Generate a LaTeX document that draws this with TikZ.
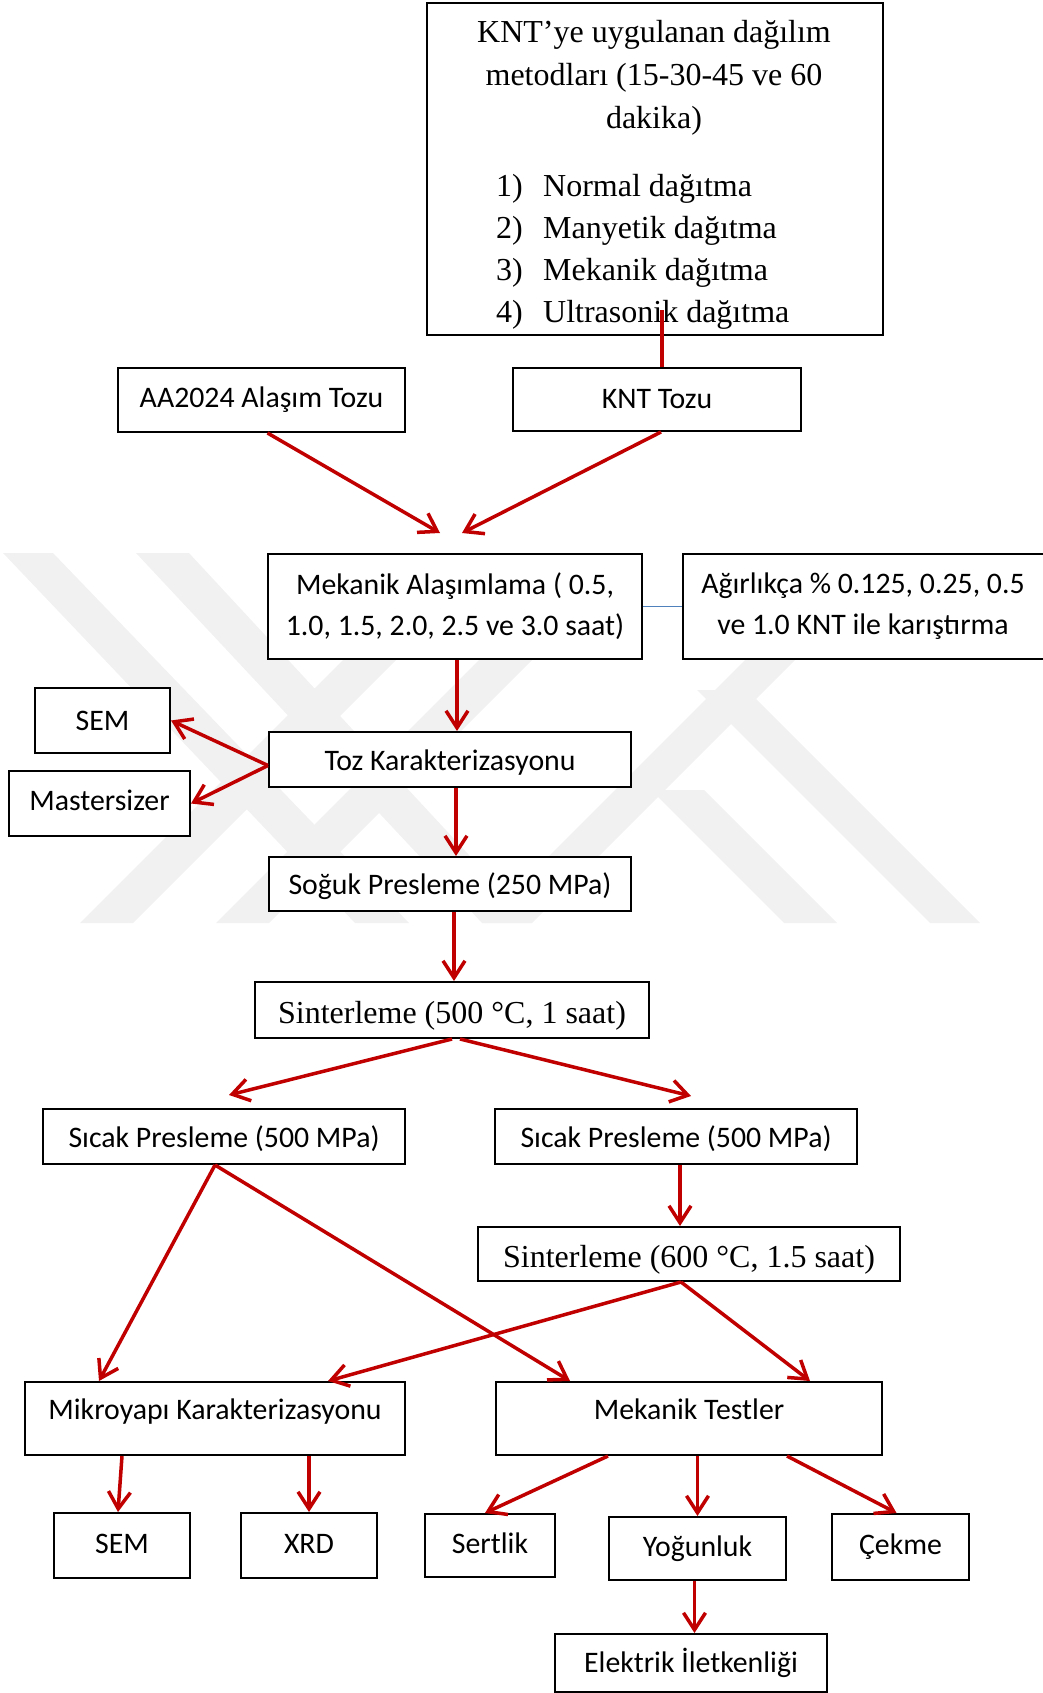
\documentclass[tikz,border=0pt]{standalone}
\usepackage{fontspec}
\setmainfont{Liberation Serif}
\newfontfamily\calibri{Carlito}
\usetikzlibrary{arrows.meta}
\definecolor{arrred}{HTML}{C00000}
\definecolor{linkblue}{HTML}{4F81BD}
\definecolor{wmgray}{HTML}{F1F1F1}
\tikzset{
  box/.style={draw, line width=2pt, fill=white, inner sep=0pt, align=center,
    font=\calibri\fontsize{29.8}{41}\selectfont},
  sbox/.style={box, font=\fontsize{32}{43}\selectfont},
  arr/.style={draw=arrred, line width=3.5pt, -{Straight Barb[length=17pt,width=22pt]}},
}
\begin{document}
\begin{tikzpicture}[x=1pt, y=-1pt]
\useasboundingbox (0,0) rectangle (1042,1693);
% watermark
\fill[wmgray] (3,553) -- (53,553) -- (409,923) -- (355,923) -- cycle;
\fill[wmgray] (136,553) -- (189,553) -- (532,923) -- (482,923) -- cycle;
\fill[wmgray] (80,923) -- (133,923) -- (503,553) -- (450,553) -- cycle;
\fill[wmgray] (216,923) -- (269,923) -- (639,553) -- (586,553) -- cycle;
\fill[wmgray] (482,923) -- (532,923) -- (902,553) -- (852,553) -- cycle;
\fill[wmgray] (697,690) -- (747,690) -- (980,923) -- (930,923) -- cycle;
\fill[wmgray] (651,790) -- (704,790) -- (837,923) -- (784,923) -- cycle;

\node[box, minimum width=456, minimum height=332, anchor=north west] (meth) at (426,2) {};
\node[anchor=north, align=center, font=\fontsize{32}{43}\selectfont] (methhead) at (654,17)
  {KNT’ye uygulanan dağılım\\metodları (15-30-45 ve 60\\dakika)};
\node[anchor=north west, align=left, inner sep=0pt, font=\fontsize{32}{42}\selectfont] (methlist) at (496,174)
  {\makebox[47pt][l]{1)}Normal dağıtma\\
   \makebox[47pt][l]{2)}Manyetik dağıtma\\
   \makebox[47pt][l]{3)}Mekanik dağıtma\\
   \makebox[47pt][l]{4)}Ultrasonik dağıtma};

\node[box, minimum width=287, minimum height=64] (aa) at (261.5,400) {AA2024 Alaşım Tozu};
\node[box, minimum width=288, minimum height=63] (knt) at (657,399.5) {KNT Tozu};
\node[box, minimum width=374, minimum height=105] (mek) at (455,606.5) {Mekanik Alaşımlama ( 0.5,\\1.0, 1.5, 2.0, 2.5 ve 3.0 saat)};
\node[box, minimum width=364, minimum height=105] (agir) at (865,606.5) {\hspace*{-4pt}Ağırlıkça \% 0.125, 0.25, 0.5\\ve 1.0 KNT ile karıştırma\hspace*{4pt}};
\node[box, minimum width=362, minimum height=55, text height=27pt, text depth=6pt] (toz) at (450,759.5) {Toz Karakterizasyonu};
\node[box, minimum width=135, minimum height=65] (sem1) at (102.5,720.5) {SEM};
\node[box, minimum width=181, minimum height=65, text depth=6pt] (master) at (99.5,803.5) {Mastersizer};
\node[box, minimum width=362, minimum height=54, text height=27pt, text depth=6pt] (soguk) at (450,884) {Soğuk Presleme (250 MPa)};
\node[sbox, minimum width=394, minimum height=56, text height=34pt, text depth=7pt] (sint1) at (452,1010) {Sinterleme (500 °C, 1 saat)};
\node[box, minimum width=362, minimum height=55, text height=27pt, text depth=6pt] (sicL) at (224,1136.5) {Sıcak Presleme (500 MPa)};
\node[box, minimum width=362, minimum height=55, text height=27pt, text depth=6pt] (sicR) at (676,1136.5) {Sıcak Presleme (500 MPa)};
\node[sbox, minimum width=422, minimum height=54, text height=34pt, text depth=7pt] (sint2) at (689,1254) {Sinterleme (600 °C, 1.5 saat)};
\node[box, minimum width=380, minimum height=73, text depth=18pt] (mikro) at (215,1418.5) {Mikroyapı Karakterizasyonu};
\node[box, minimum width=386, minimum height=73, text depth=18pt] (mtest) at (689,1418.5) {Mekanik Testler};
\node[box, minimum width=136, minimum height=65, text depth=4pt] (sem2) at (122,1545.5) {SEM};
\node[box, minimum width=136, minimum height=65, text depth=4pt] (xrd) at (309,1545.5) {XRD};
\node[box, minimum width=130, minimum height=63, text depth=4pt] (sert) at (490,1545.5) {Sertlik};
\node[box, minimum width=177, minimum height=63] (yog) at (697.5,1548.5) {Yoğunluk};
\node[box, minimum width=137, minimum height=66] (cekme) at (900.5,1547) {Çekme};
\node[box, minimum width=272, minimum height=58] (elek) at (691,1663) {Elektrik İletkenliği};

\coordinate (methin) at (662,310);
\coordinate (mekinL) at (440,533);
\coordinate (mekinR) at (462,533);
\coordinate (sicLin) at (229,1095);
\coordinate (sicRin) at (691,1096);

\draw[arrred, line width=3.5pt] ([xshift=5pt]knt.north) -- (methin);
\draw[linkblue, line width=1.5pt] (mek.east) -- (agir.west);
\draw[arr] ([xshift=6pt]aa.south) -- (mekinL);
\draw[arr] ([xshift=4pt]knt.south) -- (mekinR);
\draw[arr] ([xshift=2pt]mek.south) -- ([xshift=2pt]mek.south |- toz.north);
\draw[arr] ([yshift=-6pt]toz.west) -- (sem1.east);
\draw[arr] ([yshift=-6pt]toz.west) -- (master.east);
\draw[arr] ([xshift=6pt]toz.south) -- ([xshift=6pt]toz.south |- soguk.north);
\draw[arr] ([xshift=4pt]soguk.south) -- ([xshift=4pt]soguk.south |- sint1.north);
\draw[arr] (sint1.south) -- (sicLin);
\draw[arr] ([xshift=8pt]sint1.south) -- (sicRin);
\draw[arr] ([xshift=-9pt]sicL.south) -- ([xshift=75pt]mikro.north west);
\draw[arr] ([xshift=-9pt]sicL.south) -- ([xshift=75pt]mtest.north west);
\draw[arr] ([xshift=4pt]sicR.south) -- ([xshift=4pt]sicR.south |- sint2.north);
\draw[arr] ([xshift=-8pt]sint2.south) -- ([xshift=304pt]mikro.north west);
\draw[arr] ([xshift=-8pt]sint2.south) -- ([xshift=315pt]mtest.north west);
\draw[arr] (mikro.south -| sem2.north) -- ([xshift=-4pt]sem2.north);
\draw[arr] (mikro.south -| xrd.north) -- (xrd.north);
\draw[arr] ([xshift=-81pt]mtest.south) -- ([xshift=-5pt]sert.north);
\draw[arr] (mtest.south -| yog.north) -- (yog.north);
\draw[arr] ([xshift=98pt]mtest.south) -- ([xshift=-4pt]cekme.north);
\draw[arr] ([xshift=-3pt]yog.south) -- ([xshift=-3pt]yog.south |- elek.north);
\end{tikzpicture}
\end{document}
